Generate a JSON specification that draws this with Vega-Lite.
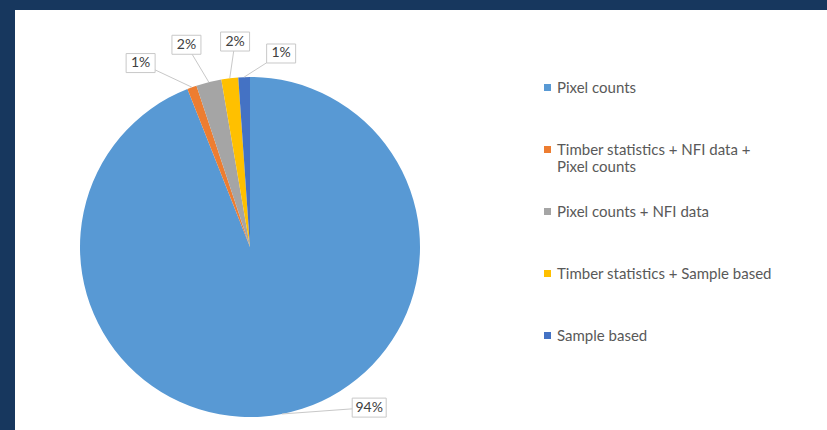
{
  "$schema": "https://vega.github.io/schema/vega-lite/v6.json",
  "autosize": "none",
  "width": 812,
  "height": 420,
  "padding": {"left": 15, "top": 10, "right": 0, "bottom": 0},
  "background": "#17375e",
  "config": {"view": {"fill": "white", "stroke": null}},
  "data": {
    "values": [
      {"cat": "Pixel counts", "value": 94.0, "idx": 1},
      {"cat": "Timber statistics + NFI data + Pixel counts", "value": 0.9, "idx": 2},
      {"cat": "Pixel counts + NFI data", "value": 2.4, "idx": 3},
      {"cat": "Timber statistics + Sample based", "value": 1.6, "idx": 4},
      {"cat": "Sample based", "value": 1.1, "idx": 5}
    ]
  },
  "transform": [
    {"joinaggregate": [{"op": "sum", "field": "value", "as": "total"}, {"op": "max", "field": "value", "as": "maxv"}]},
    {"window": [{"op": "sum", "field": "value", "as": "cum"}], "sort": [{"field": "idx", "order": "ascending"}], "frame": [null, 0]},
    {"calculate": "datum.value / datum.total", "as": "pct"},
    {"calculate": "2 * PI * (datum.cum - datum.value / 2) / datum.total", "as": "mid"},
    {"calculate": "datum.value == datum.maxv ? datum.mid - 0.45 : PI * (1 + datum.maxv / datum.total) + (datum.idx - 3.5) * 0.232", "as": "la"},
    {"calculate": "datum.value == datum.maxv ? 200 : 214 - 2 * pow(datum.idx - 2, 2)", "as": "ld"},
    {"calculate": "datum.ld * sin(datum.la)", "as": "lx"},
    {"calculate": "datum.ld * cos(datum.la)", "as": "ly"},
    {"calculate": "170 * sin(datum.mid)", "as": "sx"},
    {"calculate": "170 * cos(datum.mid)", "as": "sy"}
  ],
  "layer": [
    {
      "mark": {"type": "arc", "outerRadius": 170},
      "encoding": {
        "theta": {"field": "value", "type": "quantitative", "stack": true},
        "order": {"field": "idx", "type": "quantitative"},
        "x": {"datum": 0, "type": "quantitative", "scale": {"domain": [-235, 577], "nice": false, "zero": false}, "axis": null},
        "y": {"datum": 0, "type": "quantitative", "scale": {"domain": [-183, 237], "nice": false, "zero": false}, "axis": null},
        "color": {
          "field": "cat",
          "type": "nominal",
          "scale": {
            "domain": ["Pixel counts", "Timber statistics + NFI data + Pixel counts", "Pixel counts + NFI data", "Timber statistics + Sample based", "Sample based"],
            "range": ["#5899d4", "#ed7d31", "#a5a5a5", "#ffc000", "#4472c4"]
          },
          "legend": {
            "orient": "none",
            "legendX": 525,
            "legendY": 70,
            "title": null,
            "padding": 0,
            "gridAlign": "all",
            "symbolType": "square",
            "symbolSize": 49,
            "symbolStrokeWidth": 0,
            "labelFont": "Lato",
            "labelFontSize": 15,
            "labelColor": "#595959",
            "labelOffset": 2,
            "labelLimit": 0,
            "rowPadding": 29,
            "labelExpr": "datum.label == 'Timber statistics + NFI data + Pixel counts' ? ['Timber statistics + NFI data +', 'Pixel counts'] : datum.label"
          }
        }
      }
    },
    {
      "mark": {"type": "rule", "color": "#c8c8c8", "strokeWidth": 1},
      "encoding": {
        "x": {"field": "sx", "type": "quantitative"},
        "y": {"field": "sy", "type": "quantitative"},
        "x2": {"field": "lx"},
        "y2": {"field": "ly"}
      }
    },
    {
      "mark": {"type": "point", "filled": false, "fill": "white", "fillOpacity": 1, "stroke": "#c8c8c8", "strokeWidth": 1, "opacity": 1, "size": 4},
      "encoding": {
        "x": {"field": "lx", "type": "quantitative"},
        "y": {"field": "ly", "type": "quantitative"},
        "shape": {
          "condition": {"test": "datum.value == datum.maxv", "value": "M-17,-9.5H17V9.5H-17Z"},
          "value": "M-14.5,-9.5H14.5V9.5H-14.5Z"
        }
      }
    },
    {
      "mark": {"type": "text", "font": "Lato", "fontSize": 14, "color": "#404040", "align": "center", "baseline": "middle"},
      "encoding": {
        "x": {"field": "lx", "type": "quantitative"},
        "y": {"field": "ly", "type": "quantitative"},
        "text": {"field": "pct", "type": "quantitative", "format": ".0%"}
      }
    }
  ]
}
